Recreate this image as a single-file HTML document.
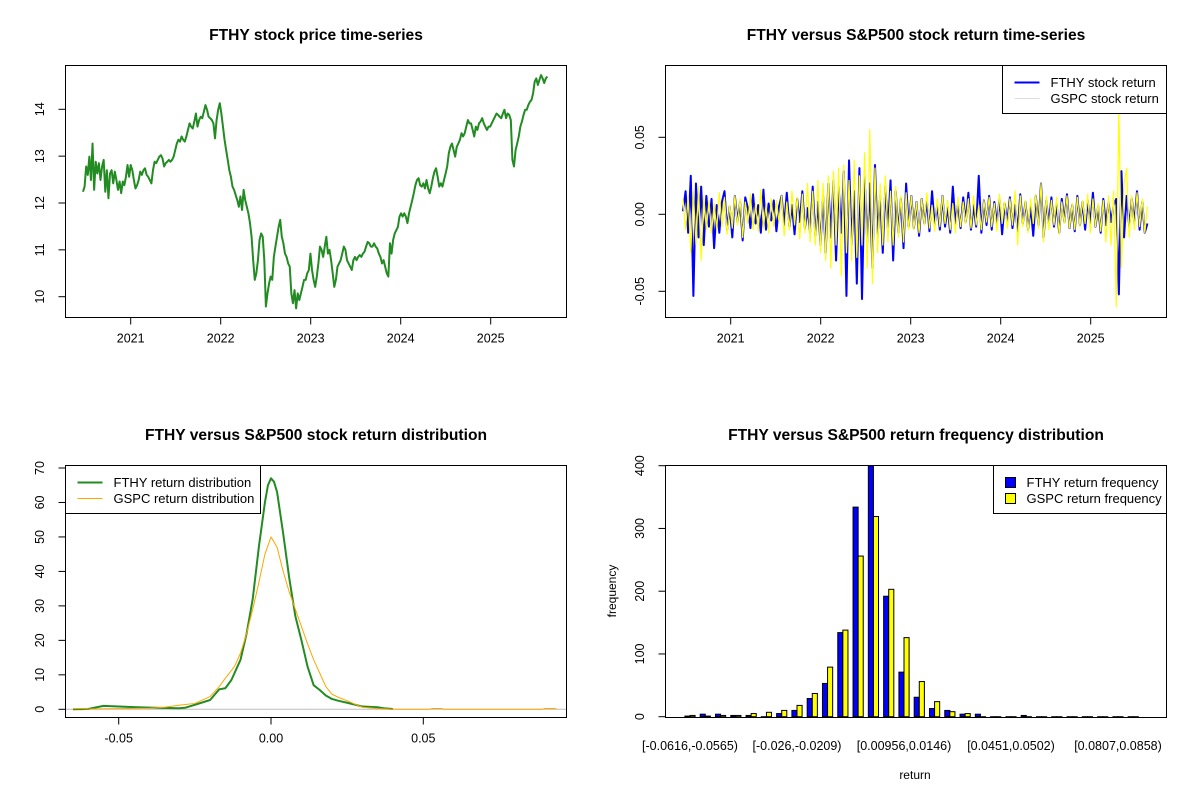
<!DOCTYPE html>
<html><head><meta charset="utf-8"><style>
html,body{margin:0;padding:0;background:#fff;}
svg{display:block;font-family:"Liberation Sans",Arial,sans-serif;}
</style></head><body>
<svg id="chart" width="1200" height="800" viewBox="0 0 1200 800"></svg>
<script>
// ---------- data ----------
const priceValues=[12.24,12.35,12.78,12.60,12.99,12.49,13.27,12.28,12.88,12.63,12.85,12.49,12.78,12.92,12.24,12.70,12.10,12.63,12.70,12.42,12.67,12.49,12.28,12.46,12.21,12.46,12.38,12.56,12.81,12.56,12.81,12.70,12.49,12.31,12.38,12.49,12.67,12.60,12.70,12.74,12.60,12.56,12.49,12.42,12.70,12.88,12.85,12.92,12.99,13.02,12.95,12.78,12.85,12.88,12.92,12.88,12.92,12.99,13.13,13.27,13.35,13.31,13.42,13.35,13.31,13.42,13.56,13.70,13.63,13.59,13.74,13.91,13.63,13.77,13.84,13.81,13.95,14.09,13.99,13.84,13.81,13.77,13.70,13.38,13.77,13.99,14.13,13.91,13.63,13.35,13.13,12.92,12.70,12.56,12.35,12.28,12.17,12.06,11.92,12.14,11.85,12.28,12.06,11.92,11.78,11.57,11.28,10.78,10.36,10.50,10.78,11.21,11.35,11.28,10.78,9.79,10.07,10.28,10.43,10.36,10.85,11.07,11.28,11.49,11.64,11.28,11.14,10.92,10.85,10.71,10.64,10.07,9.86,10.14,9.75,10.07,9.93,10.07,10.21,10.36,10.36,10.50,10.57,10.92,10.57,10.36,10.21,10.43,10.71,11.07,11.00,10.85,11.07,11.28,10.92,11.00,10.78,10.50,10.21,10.36,10.64,10.71,10.78,10.92,11.07,11.00,10.78,10.71,10.64,10.57,10.78,10.85,10.78,10.85,10.89,10.85,10.92,10.96,11.07,11.17,11.14,11.07,11.07,11.14,11.07,11.03,10.92,10.85,10.71,10.78,10.64,10.50,10.43,11.14,10.92,11.21,11.35,11.42,11.49,11.71,11.78,11.71,11.78,11.71,11.57,11.78,11.92,12.06,12.21,12.38,12.49,12.53,12.38,12.35,12.42,12.31,12.49,12.31,12.21,12.35,12.53,12.67,12.74,12.56,12.35,12.42,12.35,12.49,12.63,12.78,13.06,13.20,13.27,13.13,12.99,13.20,13.27,13.35,13.49,13.42,13.49,13.63,13.77,13.70,13.70,13.56,13.42,13.63,13.56,13.70,13.74,13.81,13.70,13.63,13.56,13.63,13.63,13.70,13.77,13.84,13.91,13.88,13.84,13.81,13.91,13.99,13.81,13.91,13.88,13.77,12.92,12.78,13.13,13.27,13.42,13.63,13.74,13.88,13.99,13.99,14.09,14.16,14.20,14.34,14.59,14.66,14.52,14.63,14.73,14.66,14.56,14.66,14.70];
const priceStart=2020.47, priceEnd=2025.63;
const xYearTicks=[2021,2022,2023,2024,2025];
const priceTicks=[10,11,12,13,14];

const fthyReturns=[0.002,0.015,-0.012,0.025,-0.053,0.02,-0.015,0.018,-0.02,0.012,
-0.008,0.01,-0.022,0.006,-0.012,0.008,0.015,-0.01,0.005,-0.015,0.012,-0.005,0.008,-0.017,0.011,0.004,-0.009,0.013,-0.006,0.006,-0.012,0.016,-0.01,0.007,-0.004,0.009,-0.011,0.005,0.012,-0.007,0.014,-0.008,0.006,-0.013,0.01,-0.005,0.015,-0.009,0.004,-0.012,0.018,-0.014,0.008,
-0.02,0.012,-0.025,0.02,-0.015,0.022,-0.03,0.018,-0.012,0.028,-0.053,0.035,-0.02,0.015,-0.045,0.03,-0.055,0.025,-0.018,0.02,-0.035,0.032,-0.015,0.012,-0.025,0.018,-0.01,0.022,-0.03,0.015,-0.012,0.01,-0.022,0.02,-0.008,
0.012,-0.009,0.008,-0.014,0.01,-0.006,0.009,-0.011,0.015,-0.007,0.006,-0.01,0.012,-0.008,0.005,-0.012,0.018,-0.006,0.007,-0.009,0.011,-0.005,0.014,-0.01,0.006,-0.008,0.025,-0.012,0.009,-0.007,0.012,-0.01,0.008,-0.006,0.01,-0.013,0.007,-0.005,0.011,-0.009,0.006,-0.011,0.013,-0.006,0.008,-0.01,0.005,-0.014,0.012,-0.007,0.02,-0.015,0.009,-0.006,0.011,-0.008,0.007,-0.012,0.01,-0.005,0.013,-0.009,0.006,-0.011,0.012,-0.007,0.008,-0.01,0.009,-0.006,0.014,-0.008,0.005,-0.012,0.01,-0.007,0.008,-0.005,0.006,
0.01,-0.052,0.028,-0.015,0.012,-0.008,0.01,-0.006,0.015,-0.01,0.008,-0.012,-0.006];
const gspcReturns=[0.01,-0.01,0.012,-0.025,0.015,-0.02,0.018,-0.03,0.012,-0.01,
0.009,-0.012,0.007,-0.01,0.014,-0.008,0.011,-0.013,0.006,-0.009,0.012,-0.007,0.01,-0.015,0.008,-0.006,0.013,-0.01,0.007,-0.011,0.016,-0.009,0.006,-0.012,0.01,-0.008,0.009,-0.005,0.012,-0.014,0.008,-0.01,0.015,-0.007,0.011,-0.016,0.013,-0.012,0.02,-0.018,0.015,-0.02,0.022,
-0.025,0.02,-0.03,0.025,-0.035,0.028,-0.02,0.03,-0.04,0.032,-0.025,0.022,-0.03,0.035,-0.028,0.025,-0.02,0.04,-0.035,0.055,-0.045,0.03,-0.025,0.02,-0.02,0.025,-0.018,0.015,-0.02,0.018,-0.015,0.012,-0.018,0.014,-0.01,
0.012,-0.01,0.008,-0.012,0.01,-0.007,0.014,-0.009,0.006,-0.011,0.01,-0.008,0.012,-0.006,0.009,-0.01,0.007,-0.012,0.011,-0.008,0.008,-0.006,0.01,-0.009,0.012,-0.007,0.006,-0.01,0.009,-0.005,0.011,-0.008,0.007,-0.011,0.013,-0.006,0.008,-0.009,0.01,-0.007,0.015,-0.02,0.012,-0.008,0.009,-0.012,0.01,-0.006,0.013,-0.009,0.02,-0.018,0.012,-0.01,0.009,-0.007,0.011,-0.013,0.008,-0.006,0.012,-0.009,0.007,-0.01,0.011,-0.008,0.009,-0.006,0.013,-0.012,0.01,-0.008,0.007,-0.011,0.009,-0.018,0.012,-0.02,0.015,
-0.06,0.07,-0.035,0.02,0.03,-0.015,0.012,-0.01,0.014,-0.008,0.01,-0.012,0.005];
const returnTicks=[-0.05,0,0.05];
const returnTickLabels=["-0.05","0.00","0.05"];

const fthyDensX=[-0.065,-0.06,-0.055,-0.05,-0.04,-0.03,-0.028,-0.025,-0.02,-0.017,-0.015,-0.013,-0.01,-0.008,-0.006,-0.004,-0.002,-0.001,0,0.001,0.002,0.004,0.006,0.008,0.01,0.012,0.014,0.016,0.018,0.02,0.022,0.025,0.03,0.035,0.037,0.04];
const fthyDensY=[0,0.1,1,0.8,0.5,0.3,0.5,1.3,2.7,5.8,6.1,8.5,14.4,22,32,47,60,65,67,66,63,51,38,27,20,12.4,7,5.6,4,3,2.5,1.9,0.8,0.6,0.3,0.1];
const gspcDensX=[-0.065,-0.062,-0.06,-0.05,-0.04,-0.035,-0.03,-0.025,-0.02,-0.017,-0.015,-0.012,-0.01,-0.008,-0.006,-0.004,-0.002,0,0.002,0.004,0.006,0.008,0.01,0.012,0.014,0.016,0.018,0.02,0.022,0.025,0.028,0.03,0.035,0.04,0.052,0.053,0.056,0.057,0.089,0.09,0.093,0.094];
const gspcDensY=[0.2,0.2,0.1,0.2,0.3,0.6,1.2,1.7,3.7,6.6,9,12.4,16.3,22,29,36.7,45,50,47,40,34,29,24,19,14.4,10.5,6.6,4.4,3.5,2.5,1.3,0.6,0.2,0,0,0.25,0.25,0,0,0.25,0.25,0];
const densXTicks=[-0.05,0,0.05];
const densXTickLabels=["-0.05","0.00","0.05"];
const densYTicks=[0,10,20,30,40,50,60,70];

const binLabels=["[-0.0616,-0.0565)","[-0.026,-0.0209)","[0.00956,0.0146)","[0.0451,0.0502)","[0.0807,0.0858)"];
const binLabelIdx=[0,7,14,21,28];
const fthyFreq=[1,4,4,2,2,0,5,10,29,53,134,334,400,192,71,31,13,10,4,4,0,0,2,0,0,0,0,0,0,0];
const gspcFreq=[2,1,2,2,5,7,10,18,37,79,138,256,319,203,126,56,24,8,5,0,0,0,0,0,0,0,0,0,0,0];
const freqTicks=[0,100,200,300,400];

// ---------- helpers ----------
const svg=document.getElementById('chart');
const NS='http://www.w3.org/2000/svg';
function el(tag,attrs,parent){const e=document.createElementNS(NS,tag);for(const k in attrs)e.setAttribute(k,attrs[k]);(parent||svg).appendChild(e);return e;}
function txt(x,y,s,size,opts,parent){const t=el('text',Object.assign({x:x,y:y,'font-size':size,fill:'#000','text-anchor':'middle'},opts||{}),parent);t.textContent=s;return t;}
function lin(d0,d1,r0,r1){return v=>r0+(v-d0)*(r1-r0)/(d1-d0);}

function panel(name,box,title,titleY){
  const g=el('g',{});
  
  
  const t=txt((box.l+box.r)/2,titleY,title,15.6,{'font-weight':'bold'},g);
  
  
  return g;
}
function frame(g,box,name){
  const r=el('rect',{x:box.l,y:box.t,width:box.r-box.l,height:box.b-box.t,fill:'none',stroke:'#000','stroke-width':1},g);
  
  
}
function xAxis(g,box,ticks,labels,sx,name){
  const a=el('g',{},g);
  
  
  el('line',{x1:sx(ticks[0]),x2:sx(ticks[ticks.length-1]),y1:box.b,y2:box.b,stroke:'#000'},a);
  ticks.forEach((v,i)=>{const x=sx(v);el('line',{x1:x,x2:x,y1:box.b,y2:box.b+7,stroke:'#000'},a);
    const t=txt(x,box.b+25,labels[i],12.5,{},a);
    
    });
}
function yAxis(g,box,ticks,labels,sy,name,lx){
  const a=el('g',{},g);
  
  
  el('line',{x1:box.l,x2:box.l,y1:sy(ticks[0]),y2:sy(ticks[ticks.length-1]),stroke:'#000'},a);
  ticks.forEach((v,i)=>{const y=sy(v);el('line',{x1:box.l-7,x2:box.l,y1:y,y2:y,stroke:'#000'},a);
    const t=txt(lx,y,labels[i],12.5,{transform:'rotate(-90 '+lx+' '+y+')'},a);
    
    });
}
function polyline(g,xs,ys,color,w,name){
  const p=el('polyline',{points:xs.map((x,i)=>x.toFixed(2)+','+ys[i].toFixed(2)).join(' '),fill:'none',stroke:color,'stroke-width':w,'stroke-linejoin':'round'},g);
  
  
  return p;
}
function legend(g,x,y,w,h,items,name){
  const lg=el('g',{},g);
  
  
  el('rect',{x:x,y:y,width:w,height:h,fill:'#fff',stroke:'#000'},lg);
  items.forEach((it,i)=>{const cy=y+17+i*16;
    if(it.box){el('rect',{x:x+12,y:cy-5,width:10,height:10,fill:it.color,stroke:'#000'},lg);}
    else{el('line',{x1:x+12,x2:x+37,y1:cy,y2:cy,stroke:it.color,'stroke-width':it.w},lg);}
    const t=txt(x+(it.box?33:48),cy+4.5,it.label,13,{'text-anchor':'start'},lg);
    
    });
}

// ---------- panel 1: price ----------
(function(){
  const box={l:65.5,r:566.5,t:65.5,b:317.5};
  const sx=lin(2021,2025,130.7,490.7), sy=lin(10,14,296.7,109.3);
  const g=panel('price-panel',box,'FTHY stock price time-series',40);
  const n=priceValues.length;
  const xs=priceValues.map((v,i)=>sx(priceStart+(priceEnd-priceStart)*i/(n-1)));
  polyline(g,xs,priceValues.map(sy),'#228b22',2,'price-line');
  frame(g,box,'price');
  xAxis(g,box,xYearTicks,xYearTicks.map(String),sx,'price');
  yAxis(g,box,priceTicks,priceTicks.map(String),sy,'price',44);
})();

// ---------- panel 2: returns ----------
(function(){
  const box={l:665.5,r:1166.5,t:65.5,b:317.5};
  const sx=lin(2021,2025,730.7,1090.7), sy=lin(0,0.05,214.3,137.3);
  const g=panel('returns-panel',box,'FTHY versus S&P500 stock return time-series',40);
  const n=fthyReturns.length;
  const xs=fthyReturns.map((v,i)=>sx(priceStart+(priceEnd-priceStart)*i/(n-1)));
  const m=gspcReturns.length;
  const xs2=gspcReturns.map((v,i)=>sx(priceStart+(priceEnd-priceStart)*i/(m-1)));
  polyline(g,xs,fthyReturns.map(sy),'#0000ff',2,'fthy-return-line');
  polyline(g,xs2,gspcReturns.map(sy),'#ffff00',1.2,'gspc-return-line');
  frame(g,box,'returns');
  xAxis(g,box,xYearTicks,xYearTicks.map(String),sx,'returns');
  yAxis(g,box,returnTicks,returnTickLabels,sy,'returns',644);
  legend(g,1002.5,65.5,164,48,[{label:'FTHY stock return',color:'#0000ff',w:2},{label:'GSPC stock return',color:'#dddddd',w:1}],'returns-legend');
})();

// ---------- panel 3: density ----------
(function(){
  const box={l:65.5,r:566.5,t:465.5,b:717.5};
  const sx=lin(0,0.05,271,423.3), sy=lin(0,70,709.3,468);
  const g=panel('density-panel',box,'FTHY versus S&P500 stock return distribution',440);
  el('line',{x1:box.l,x2:box.r,y1:sy(0),y2:sy(0),stroke:'#bebebe'},g);
  polyline(g,fthyDensX.map(sx),fthyDensY.map(sy),'#228b22',2,'fthy-density-curve');
  polyline(g,gspcDensX.map(sx),gspcDensY.map(sy),'#ffa500',1,'gspc-density-curve');
  frame(g,box,'density');
  xAxis(g,box,densXTicks,densXTickLabels,sx,'density');
  yAxis(g,box,densYTicks,densYTicks.map(String),sy,'density',44);
  legend(g,65.5,465.5,195,48,[{label:'FTHY return distribution',color:'#228b22',w:2},{label:'GSPC return distribution',color:'#ffa500',w:1}],'density-legend');
})();

// ---------- panel 4: histogram ----------
(function(){
  const box={l:665.5,r:1166.5,t:465.5,b:717.5};
  const su=lin(2,23,690,797), sy=lin(0,400,716.7,465.7);
  const g=panel('histogram-panel',box,'FTHY versus S&P500 return frequency distribution',440);
  fthyFreq.forEach((v,i)=>{
    const b=el('rect',{x:su(1+3*i),y:sy(v),width:su(2+3*i)-su(1+3*i),height:Math.max(0.01,sy(0)-sy(v)),fill:'#0000ff',stroke:'#000'},g);
    
    
  });
  gspcFreq.forEach((v,i)=>{
    const b=el('rect',{x:su(2+3*i),y:sy(v),width:su(3+3*i)-su(2+3*i),height:Math.max(0.01,sy(0)-sy(v)),fill:'#ffff00',stroke:'#000'},g);
    
    
  });
  frame(g,box,'histogram');
  yAxis(g,box,freqTicks,freqTicks.map(String),sy,'histogram',644);
  binLabelIdx.forEach((bi,k)=>{
    const t=txt(su(2+3*bi),750,binLabels[k],12.5,{},g);
    
    
  });
  const xl=txt(915,779,'return',12,{},g);
  
  
  const yl=txt(616,591,'frequency',12,{transform:'rotate(-90 616 591)'},g);
  
  
  legend(g,993.5,465.5,173,48,[{label:'FTHY return frequency',color:'#0000ff',box:true},{label:'GSPC return frequency',color:'#ffff00',box:true}],'histogram-legend');
})();
</script>
</body></html>
